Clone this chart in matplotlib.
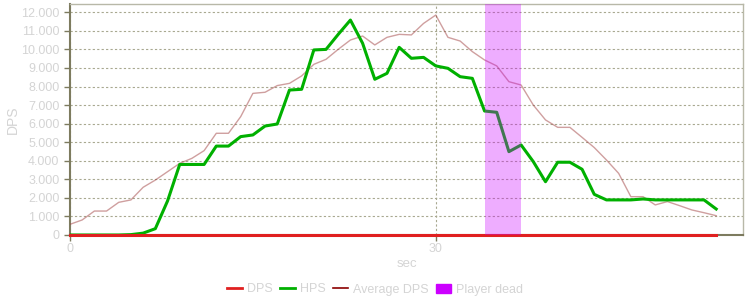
import matplotlib
matplotlib.use('Agg')
import matplotlib.pyplot as plt
from matplotlib.ticker import FuncFormatter, MultipleLocator
from matplotlib.patches import Patch
from matplotlib.lines import Line2D

plt.rcParams['font.family'] = ['Liberation Sans', 'DejaVu Sans']

seconds = list(range(0, 54))
dps = [0] * 54
hps = [0, 0, 0, 0, 0, 20, 100, 340, 1830, 3800, 3800, 3800, 4790, 4790, 5300,
       5390, 5870, 5980, 7810, 7850, 9970, 10000, 10810, 11580, 10330, 8390,
       8710, 10110, 9520, 9570, 9110, 8980, 8530, 8440, 6680, 6610, 4490, 4850,
       3950, 2870, 3920, 3920, 3540, 2190, 1890, 1890, 1890, 1940, 1890, 1890,
       1890, 1890, 1890, 1400]
avg_dps = [575, 810, 1290, 1290, 1760, 1890, 2570, 2960, 3410, 3860, 4130, 4545,
           5480, 5480, 6375, 7630, 7690, 8050, 8170, 8570, 9195, 9465, 10005,
           10505, 10720, 10240, 10650, 10810, 10780, 11400, 11850, 10650, 10450,
           9880, 9430, 9110, 8260, 8080, 7000, 6200, 5800, 5800, 5260, 4710, 4040,
           3320, 2065, 2065, 1620, 1800, 1580, 1350, 1200, 1040]
dead_start, dead_end = 34, 37

text_col = '#d4d4d4'
axis_col = '#7d7b5f'

fig = plt.figure(figsize=(7.5, 3), dpi=100)
ax = fig.add_axes([0.0933, 0.2167, 0.8974, 0.769])

ax.plot(seconds, avg_dps, color='#a04040', lw=1, alpha=0.5, zorder=3)
ax.plot(seconds, hps, color='#00b000', lw=2.2, zorder=4)
ax.plot(seconds, dps, color='#e02020', lw=2.2, marker='o', ms=2,
        markeredgewidth=0, zorder=5, clip_on=False)
ax.axvspan(dead_start, dead_end, color='#cc00ff', alpha=0.32, lw=0, zorder=6)

ax.set_xlim(0, 55.2)
ax.set_ylim(0, 12430)
ax.xaxis.set_major_locator(MultipleLocator(30))
ax.yaxis.set_major_locator(MultipleLocator(1000))
ax.yaxis.set_major_formatter(FuncFormatter(lambda v, p: f'{int(v):,}'.replace(',', '.')))

ax.grid(True, color='#a8a890', linestyle=(0, (2, 2)), lw=0.8)
ax.set_axisbelow(True)

for side in ['left', 'bottom']:
    ax.spines[side].set_color(axis_col)
    ax.spines[side].set_linewidth(1.5)
for side in ['top', 'right']:
    ax.spines[side].set_color('#b8b8a8')
    ax.spines[side].set_linewidth(1)

ax.tick_params(colors=axis_col, labelcolor=text_col, labelsize=9, length=4, width=1)
ax.tick_params(axis='x', pad=2)
ax.set_xlabel('sec', color=text_col, fontsize=9.5, labelpad=2)
ax.set_ylabel('DPS', color=text_col, fontsize=10, labelpad=1)

handles = [Line2D([], [], color='#e02020', lw=2),
           Line2D([], [], color='#00b000', lw=2),
           Line2D([], [], color='#8b0000', lw=1.2),
           Patch(facecolor='#cc00ff', edgecolor='#cc00ff')]
labels = ['DPS', 'HPS', 'Average DPS', 'Player dead']
leg = fig.legend(handles, labels, loc='center', bbox_to_anchor=(0.5, 0.035), ncol=4,
                 frameon=False, fontsize=9, handlelength=1.2, handletextpad=0.4,
                 columnspacing=0.6)
for t in leg.get_texts():
    t.set_color(text_col)

fig.savefig('out.png', dpi=100)
